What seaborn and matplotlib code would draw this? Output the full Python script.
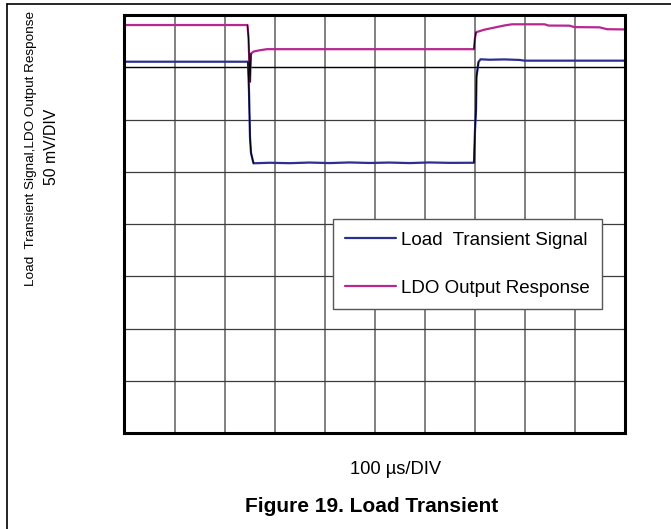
import numpy as np
import pandas as pd
import matplotlib
matplotlib.use('Agg')
import matplotlib.pyplot as plt
from matplotlib.lines import Line2D
from matplotlib.ticker import MultipleLocator
import seaborn as sns

# time in us (100 us/DIV, 10 divisions), signal in mV (50 mV/DIV, 8 divisions)
t_ldo = [0, 120, 246, 248, 251, 253, 258, 270, 285, 400, 550, 699,
         701, 703, 720, 740, 760, 775, 840, 848, 890, 900, 950, 965, 1000]
v_ldo = [390.4, 390.4, 390.4, 378, 336, 363, 365, 366.2, 367.3, 367.3, 367.3, 367.3,
         378, 383.5, 386, 388, 390, 391.1, 391.1, 389.9, 389.8, 388.4, 388.2, 386.4, 386.2]

t_load = [0, 120, 247, 249, 251, 253, 258, 290, 330, 370, 410, 450, 490, 530,
          570, 610, 650, 699, 701, 703, 704, 708, 712, 730, 760, 790, 800, 1000]
v_load = [355.3, 355.3, 355.3, 327, 283, 268, 258.1, 258.6, 258.2, 258.8, 258.3, 258.9,
          258.4, 258.8, 258.3, 258.9, 258.5, 258.6, 290, 309, 341, 355, 357.6,
          357.2, 357.5, 357.0, 356.3, 356.3]

# transition edges drawn in black like the scope capture
ldo_edges = [(246, 255), (699, 703)]
load_edges = [(247, 258), (699, 708)]

ldo = pd.DataFrame({'t': t_ldo, 'v': v_ldo})
load = pd.DataFrame({'t': t_load, 'v': v_load})

sns.set_theme(style='white')
plt.rcParams['font.family'] = ['Liberation Sans', 'DejaVu Sans']
plt.rcParams['text.color'] = 'black'

fig = plt.figure(figsize=(6.71, 5.29), dpi=100)
ax = fig.add_axes([124.5 / 671, 96 / 529, 500 / 671, 418 / 529])

blue = '#2B2F8F'
magenta = '#B8268F'

sns.lineplot(data=load, x='t', y='v', ax=ax, color=blue, lw=1.6,
             label='Load  Transient Signal', sort=False)
sns.lineplot(data=ldo, x='t', y='v', ax=ax, color=magenta, lw=1.6,
             label='LDO Output Response', sort=False)

for df, edges in [(ldo, ldo_edges), (load, load_edges)]:
    for a, b in edges:
        seg = df[(df['t'] >= a) & (df['t'] <= b)]
        ax.plot(seg['t'], seg['v'], color='black', lw=0.8)

ax.set_xlim(0, 1000)
ax.set_ylim(0, 400)
ax.xaxis.set_major_locator(MultipleLocator(100))
ax.yaxis.set_major_locator(MultipleLocator(50))
ax.grid(axis='x', color='#808080', lw=1.4)
ax.grid(axis='y', color='#3c3c3c', lw=0.9)
ax.axhline(350, color='black', lw=0.9, zorder=1)
ax.set_axisbelow(True)
ax.tick_params(length=0, labelbottom=False, labelleft=False)
ax.set_xlabel('')
ax.set_ylabel('')
for s in ax.spines.values():
    s.set_visible(True)
    s.set_color('black')
    s.set_linewidth(2.2)

leg = ax.legend(loc='lower left', bbox_to_anchor=(0.417, 0.297), fontsize=13.5,
                frameon=True, fancybox=False, framealpha=1, edgecolor='#555555',
                borderpad=0.65, labelspacing=1.65, handlelength=2.7,
                handletextpad=0.3, borderaxespad=0, labelcolor='black')
leg.get_frame().set_linewidth(1.0)
for h in leg.get_lines():
    h.set_linewidth(1.6)

fig.text(31 / 671, 1 - 148 / 529, 'Load  Transient Signal,LDO Output Response',
         rotation=90, ha='center', va='center', fontsize=9.7)
fig.text(51 / 671, 1 - 147 / 529, '50 mV/DIV', rotation=90, ha='center',
         va='center', fontsize=11.3)
fig.text(396 / 671, 1 - 469 / 529, '100 µs/DIV', ha='center', va='center',
         fontsize=13.2)
fig.text(372 / 671, 1 - 506 / 529, 'Figure 19. Load Transient', ha='center',
         va='center', fontsize=15, fontweight='bold')

# page frame lines
fig.add_artist(Line2D([7 / 671, 1], [1 - 4 / 529, 1 - 4 / 529],
                      transform=fig.transFigure, color='black', lw=1.2))
fig.add_artist(Line2D([7 / 671, 7 / 671], [0, 1 - 4 / 529],
                      transform=fig.transFigure, color='black', lw=1.2))

fig.savefig('out.png', dpi=100)
